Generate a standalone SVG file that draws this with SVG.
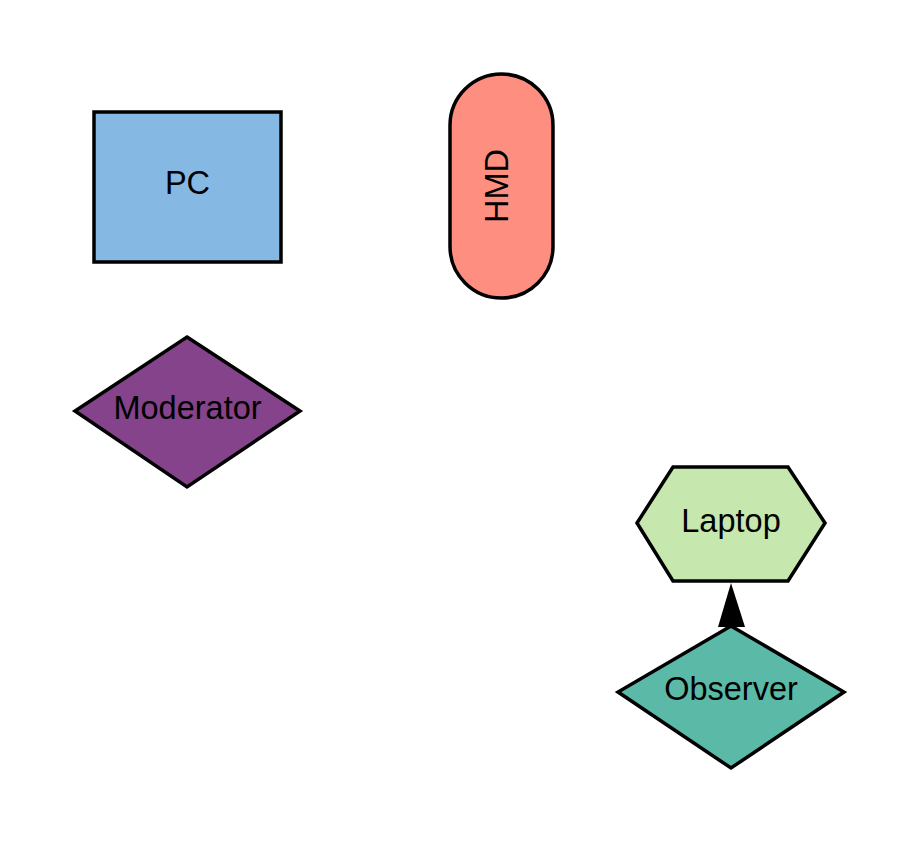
<svg xmlns="http://www.w3.org/2000/svg" width="919" height="844" viewBox="0 0 919 844">
<style>
.n{stroke:#000;stroke-width:3.5;}
.t{font-family:"Liberation Sans",Arial,sans-serif;font-size:32.5px;fill:#000;text-anchor:middle;}
</style>
<rect width="919" height="844" fill="#fff"/>
<g id="connectors">
<polygon points="731,583 718,627 745,627" fill="#000"/>
</g>
<g id="PC">
<rect class="n" x="94" y="112" width="187" height="150" fill="#85b9e3"/>
<text class="t" x="187.5" y="194">PC</text>
</g>
<g id="HMD">
<rect class="n" x="450" y="74" width="103" height="224" rx="51.5" ry="51.5" fill="#fe8f80"/>
<text class="t" transform="translate(508,186) rotate(-90)" x="0" y="0">HMD</text>
</g>
<g id="Moderator">
<polygon class="n" points="187,337 300,411 187,487 75,411" fill="#84438a"/>
<text class="t" x="187.5" y="419">Moderator</text>
</g>
<g id="Laptop">
<polygon class="n" points="673,467 788,467 825,523 788,581 673,581 637,523" fill="#c6e7ad"/>
<text class="t" x="731" y="532">Laptop</text>
</g>
<g id="Observer">
<polygon class="n" points="731,626 844,692 731,768 618,692" fill="#5bbaa7"/>
<text class="t" x="731" y="700">Observer</text>
</g>
</svg>
